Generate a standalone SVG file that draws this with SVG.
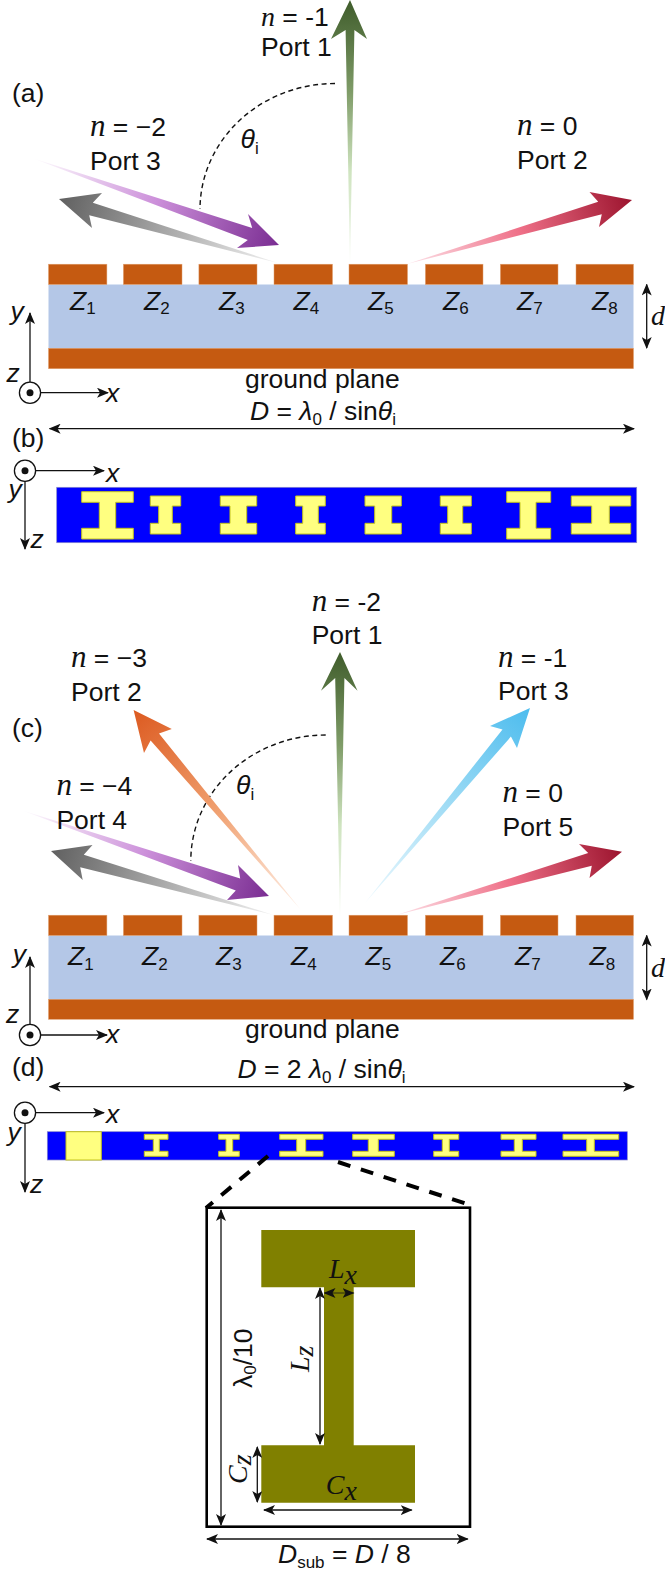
<svg xmlns="http://www.w3.org/2000/svg" width="665" height="1591" viewBox="0 0 665 1591">
<style>
text{font-family:"Liberation Sans",Arial,sans-serif;font-size:26.5px;fill:#111}
.i{font-style:italic}
.m{font-family:"Liberation Serif","Times New Roman",serif;font-style:italic;font-size:28px}
.n{font-family:"Liberation Serif","Times New Roman",serif;font-style:italic;font-size:31px}
.t{font-family:"Liberation Serif","Times New Roman",serif;font-style:italic;font-size:28px}
.s{font-size:17px}
.pa{fill:#c55a11;stroke:#e0a070;stroke-width:.5}
.sb{fill:#b4c7e7}
.bl{fill:#0000ff;stroke:#8888cc;stroke-width:.7}
.ye{fill:#ffff80;stroke:#c4c41c;stroke-width:1}
.ol{fill:#808000}
.ln{fill:none;stroke:#111;stroke-width:1.3}
.dim{marker-start:url(#hd);marker-end:url(#hd)}
.end{marker-end:url(#hd)}
.dash{fill:none;stroke:#111;stroke-width:1.4;stroke-dasharray:5 3.5}
.bd{fill:none;stroke:#000;stroke-width:4;stroke-dasharray:13 11}
.ci{fill:#fff;stroke:#111;stroke-width:1.3}
</style>
<defs>
<marker id="hd" viewBox="0 0 12 10" refX="11" refY="5" markerWidth="12" markerHeight="10" markerUnits="userSpaceOnUse" orient="auto-start-reverse"><path d="M0,0L12,5L0,10L3,5Z" fill="#111"/></marker>
<linearGradient id="g1" gradientUnits="userSpaceOnUse" x1="350" y1="264" x2="350" y2="0"><stop offset="0" stop-color="#f4f9f0"/><stop offset=".35" stop-color="#cfe4c0"/><stop offset=".65" stop-color="#7f9c68"/><stop offset="1" stop-color="#3f5c2b"/></linearGradient>
<linearGradient id="g2" gradientUnits="userSpaceOnUse" x1="32" y1="158" x2="279" y2="245"><stop offset="0" stop-color="#fff"/><stop offset=".12" stop-color="#f3e4f6"/><stop offset=".5" stop-color="#cc90da"/><stop offset="1" stop-color="#7a2d92"/></linearGradient>
<linearGradient id="g3" gradientUnits="userSpaceOnUse" x1="278" y1="263" x2="59" y2="199"><stop offset="0" stop-color="#f2f2f2"/><stop offset="1" stop-color="#606060"/></linearGradient>
<linearGradient id="g4" gradientUnits="userSpaceOnUse" x1="407" y1="264" x2="632" y2="200"><stop offset="0" stop-color="#fde4ea"/><stop offset=".5" stop-color="#ef7088"/><stop offset="1" stop-color="#9c142e"/></linearGradient>
<linearGradient id="g5" gradientUnits="userSpaceOnUse" x1="340" y1="918" x2="340" y2="652"><stop offset="0" stop-color="#f4f9f0"/><stop offset=".35" stop-color="#cfe4c0"/><stop offset=".65" stop-color="#7f9c68"/><stop offset="1" stop-color="#3f5c2b"/></linearGradient>
<linearGradient id="g6" gradientUnits="userSpaceOnUse" x1="301" y1="910" x2="133.6" y2="710"><stop offset="0" stop-color="#fff2ea"/><stop offset=".5" stop-color="#f0a070"/><stop offset="1" stop-color="#dc5a20"/></linearGradient>
<linearGradient id="g7" gradientUnits="userSpaceOnUse" x1="365" y1="903" x2="530" y2="708"><stop offset="0" stop-color="#eef9fe"/><stop offset=".5" stop-color="#a0dcf5"/><stop offset="1" stop-color="#4cbcee"/></linearGradient>
<linearGradient id="g8" gradientUnits="userSpaceOnUse" x1="21" y1="810" x2="269" y2="896"><stop offset="0" stop-color="#fff"/><stop offset=".12" stop-color="#f3e4f6"/><stop offset=".5" stop-color="#cc90da"/><stop offset="1" stop-color="#7a2d92"/></linearGradient>
<linearGradient id="g9" gradientUnits="userSpaceOnUse" x1="273.5" y1="915" x2="51" y2="851"><stop offset="0" stop-color="#f2f2f2"/><stop offset="1" stop-color="#606060"/></linearGradient>
<linearGradient id="g10" gradientUnits="userSpaceOnUse" x1="396.5" y1="915" x2="622" y2="851.7"><stop offset="0" stop-color="#fde4ea"/><stop offset=".5" stop-color="#ef7088"/><stop offset="1" stop-color="#9c142e"/></linearGradient>
</defs>

<g id="structure-a">
<rect class="sb" x="48.5" y="284.5" width="585" height="64"/>
<rect class="pa" x="48.5" y="348.3" width="585" height="20.4"/>
<rect class="pa" x="48.5" y="264.2" width="58.4" height="20.3"/><rect class="pa" x="123.4" y="264.2" width="58.6" height="20.3"/><rect class="pa" x="198.9" y="264.2" width="58.1" height="20.3"/><rect class="pa" x="274" y="264.2" width="58.5" height="20.3"/><rect class="pa" x="349" y="264.2" width="58.5" height="20.3"/><rect class="pa" x="425.4" y="264.2" width="57.6" height="20.3"/><rect class="pa" x="500.4" y="264.2" width="57.6" height="20.3"/><rect class="pa" x="576" y="264.2" width="57.5" height="20.3"/>
</g>
<g id="structure-c">
<rect class="sb" x="48.5" y="935.5" width="585" height="64"/>
<rect class="pa" x="48.5" y="999.3" width="585" height="20"/>
<rect class="pa" x="48.5" y="915.2" width="58.4" height="20.3"/><rect class="pa" x="123.4" y="915.2" width="58.6" height="20.3"/><rect class="pa" x="198.9" y="915.2" width="58.1" height="20.3"/><rect class="pa" x="274" y="915.2" width="58.5" height="20.3"/><rect class="pa" x="349" y="915.2" width="58.5" height="20.3"/><rect class="pa" x="425.4" y="915.2" width="57.6" height="20.3"/><rect class="pa" x="500.4" y="915.2" width="57.6" height="20.3"/><rect class="pa" x="576" y="915.2" width="57.5" height="20.3"/>
</g>
<g id="strip-b">
<rect class="bl" x="56.7" y="487.3" width="580" height="55.4"/>
<path class="ye" d="M81.7 491.7H133.3V502.3H115.7V528.3H133.3V539H81.7V528.3H99.3V502.3H81.7Z"/>
<path class="ye" d="M150.3 496H180.7V506H172.3V523.3H180.7V534H150.3V523.3H158.7V506H150.3Z"/>
<path class="ye" d="M220.3 496H256.7V506H246.7V523.3H256.7V534H220.3V523.3H230V506H220.3Z"/>
<path class="ye" d="M295.7 496H325.3V506H318.3V523.3H325.3V534H295.7V523.3H302.7V506H295.7Z"/>
<path class="ye" d="M365 496H401.3V506H391.7V523.3H401.3V534H365V523.3H374.7V506H365Z"/>
<path class="ye" d="M440.3 496H471.3V506H462.7V523.3H471.3V534H440.3V523.3H447.7V506H440.3Z"/>
<path class="ye" d="M506.7 491.7H550.7V502.3H536V528.3H550.7V539H506.7V528.3H520V502.3H506.7Z"/>
<path class="ye" d="M571.3 496H630.7V506H609.3V523.3H630.7V534H571.3V523.3H591.7V506H571.3Z"/>
</g>
<g id="strip-d">
<rect class="bl" x="47.3" y="1131.7" width="580" height="28.3"/>
<rect class="ye" x="66" y="1131.7" width="35.3" height="28.3"/>
<path class="ye" d="M144.3 1134.3H168V1139.3H159.3V1151.3H168V1156.3H144.3V1151.3H153.3V1139.3H144.3Z"/>
<path class="ye" d="M218.7 1134.3H239.3V1139.3H232.7V1151.3H239.3V1156.3H218.7V1151.3H226V1139.3H218.7Z"/>
<path class="ye" d="M279.7 1134.3H323V1139.3H305.7V1151.3H323V1156.3H279.7V1151.3H296.7V1139.3H279.7Z"/>
<path class="ye" d="M352.7 1134.3H394.3V1139.3H378.3V1151.3H394.3V1156.3H352.7V1151.3H368.3V1139.3H352.7Z"/>
<path class="ye" d="M433.7 1134.3H458.7V1139.3H449.3V1151.3H458.7V1156.3H433.7V1151.3H442.3V1139.3H433.7Z"/>
<path class="ye" d="M501 1134.3H536V1139.3H522.3V1151.3H536V1156.3H501V1151.3H514.3V1139.3H501Z"/>
<path class="ye" d="M563 1134.3H618.7V1139.3H594.3V1151.3H618.7V1156.3H563V1151.3H586.7V1139.3H563Z"/>
</g>
<g id="detail">
<rect x="206.7" y="1207.7" width="263.3" height="319" fill="#fff" stroke="#000" stroke-width="2.6"/>
<path class="ol" d="M261.3 1230H415V1287.3H353.7V1445.3H415V1502.7H261.3V1445.3H324V1287.3H261.3Z"/>
</g>

<g id="connectors">
<path class="dash" d="M335 83.5A135 126 0 0 0 200 209"/>
<path class="dash" d="M325.7 735A135 126 0 0 0 190.8 860.7"/>
<polygon fill="url(#g3)" points="278,263 92.8,202.8 102,193 59,199 92,228 89.2,215.2"/>
<polygon fill="url(#g2)" points="32,158 252.2,227.9 248,214 279,245 237,248 247.8,240.1"/>
<polygon fill="url(#g1)" points="350,264 354.4,30 367,39 350,0 331,39 345.6,30"/>
<polygon fill="url(#g4)" points="407,264 598.2,201.7 589.5,192 632,200 599,227 601.8,214.3"/>
<polygon fill="url(#g5)" points="340,918 344.4,678 357.5,690.7 340,652 321,690.7 335.2,678"/>
<polygon fill="url(#g6)" points="301,910 159,733.5 171.8,729 133.6,710 144,753 150.6,740.5"/>
<polygon fill="url(#g7)" points="365,903 502.5,729.4 490,726 530,708 517,748 510.9,736.6"/>
<polygon fill="url(#g9)" points="273.5,915 83.8,854.8 92.5,845 51,851 82.7,880 80.2,867.2"/>
<polygon fill="url(#g8)" points="21,810 240.2,878.4 238,865 269,896 227,900 235.8,890.6"/>
<polygon fill="url(#g10)" points="396.5,915 588.2,853.1 579,844 622,851.7 589.5,878 591.8,865.7"/>
<path class="ln dim" d="M646.7 284.5V348"/><path class="ln dim" d="M646.7 935.5V999.5"/>
<path class="ln dim" d="M49.6 428.7H634"/><path class="ln dim" d="M49.6 1086.7H634"/>
<path class="ln end" d="M30 382V313"/><path class="ln end" d="M41 392.7H108"/>
<path class="ln end" d="M30 1025V957"/><path class="ln end" d="M41 1035H107"/>
<path class="ln end" d="M36 470.7H104"/><path class="ln end" d="M25 481V549"/>
<path class="ln end" d="M36 1112.7H104"/><path class="ln end" d="M25 1123V1192"/>
<path class="bd" d="M268 1156L206 1208"/><path class="bd" d="M338 1162L470 1205"/>
<path class="ln dim" d="M221 1210V1525"/><path class="ln dim" d="M320 1288V1444"/><path class="ln dim" d="M257.3 1447V1502"/><path class="ln dim" d="M264 1510H411.7"/><path class="ln dim" style="stroke-width:.8" d="M324.5 1293H353.5"/><path class="ln dim" d="M207 1539H467.7"/>
</g>
<g id="axes"><circle class="ci" cx="30" cy="392.7" r="10.6"/><circle cx="30" cy="392.7" r="3.5" fill="#111"/><circle class="ci" cx="30" cy="1035" r="10.6"/><circle cx="30" cy="1035" r="3.5" fill="#111"/><circle class="ci" cx="25" cy="470.7" r="10.6"/><circle cx="25" cy="470.7" r="3.5" fill="#111"/><circle class="ci" cx="25" cy="1112.7" r="10.6"/><circle cx="25" cy="1112.7" r="3.5" fill="#111"/></g>

<g id="labels">
<text x="12" y="102">(a)</text><text x="12" y="447">(b)</text><text x="12" y="737">(c)</text><text x="12" y="1076">(d)</text>
<text x="261" y="25.5"><tspan class="t">n</tspan> = -1</text><text x="261" y="56">Port 1</text>
<text x="90" y="136"><tspan class="n">n</tspan> = −2</text><text x="90" y="170">Port 3</text>
<text x="517" y="135"><tspan class="n">n</tspan> = 0</text><text x="517" y="169">Port 2</text>
<text x="240.5" y="148"><tspan class="i">θ</tspan><tspan class="s" dy="6">i</tspan></text>
<text x="311.7" y="610.7"><tspan class="n">n</tspan> = -2</text><text x="311.7" y="644">Port 1</text>
<text x="71" y="667"><tspan class="n">n</tspan> = −3</text><text x="71" y="700.7">Port 2</text>
<text x="498" y="666.7"><tspan class="n">n</tspan> = -1</text><text x="498" y="700">Port 3</text>
<text x="56.4" y="795"><tspan class="n">n</tspan> = −4</text><text x="56.4" y="829">Port 4</text>
<text x="502.5" y="801.7"><tspan class="n">n</tspan> = 0</text><text x="502.5" y="835.7">Port 5</text>
<text x="236" y="794"><tspan class="i">θ</tspan><tspan class="s" dy="6">i</tspan></text>
<text x="70" y="310"><tspan class="i">Z</tspan><tspan class="s" dy="4">1</tspan></text><text x="144" y="310"><tspan class="i">Z</tspan><tspan class="s" dy="4">2</tspan></text><text x="219" y="310"><tspan class="i">Z</tspan><tspan class="s" dy="4">3</tspan></text><text x="293.5" y="310"><tspan class="i">Z</tspan><tspan class="s" dy="4">4</tspan></text><text x="368" y="310"><tspan class="i">Z</tspan><tspan class="s" dy="4">5</tspan></text><text x="443" y="310"><tspan class="i">Z</tspan><tspan class="s" dy="4">6</tspan></text><text x="517" y="310"><tspan class="i">Z</tspan><tspan class="s" dy="4">7</tspan></text><text x="592" y="310"><tspan class="i">Z</tspan><tspan class="s" dy="4">8</tspan></text>
<text x="68" y="965"><tspan class="i">Z</tspan><tspan class="s" dy="5">1</tspan></text><text x="142" y="965"><tspan class="i">Z</tspan><tspan class="s" dy="5">2</tspan></text><text x="216" y="965"><tspan class="i">Z</tspan><tspan class="s" dy="5">3</tspan></text><text x="291" y="965"><tspan class="i">Z</tspan><tspan class="s" dy="5">4</tspan></text><text x="365.6" y="965"><tspan class="i">Z</tspan><tspan class="s" dy="5">5</tspan></text><text x="440" y="965"><tspan class="i">Z</tspan><tspan class="s" dy="5">6</tspan></text><text x="515" y="965"><tspan class="i">Z</tspan><tspan class="s" dy="5">7</tspan></text><text x="589.5" y="965"><tspan class="i">Z</tspan><tspan class="s" dy="5">8</tspan></text>
<text class="m" x="651" y="325">d</text><text class="m" x="651" y="976.7">d</text>
<text x="245" y="387.7">ground plane</text><text x="245" y="1038">ground plane</text>
<text x="250" y="420"><tspan class="i">D</tspan> = <tspan class="i">λ</tspan><tspan class="s" dy="5">0</tspan><tspan dy="-5"> / sin</tspan><tspan class="i">θ</tspan><tspan class="s" dy="5">i</tspan></text>
<text x="237.5" y="1078"><tspan class="i">D</tspan> = 2 <tspan class="i">λ</tspan><tspan class="s" dy="5">0</tspan><tspan dy="-5"> / sin</tspan><tspan class="i">θ</tspan><tspan class="s" dy="5">i</tspan></text>
<text class="i" x="106" y="401.7">x</text><text class="i" x="10.6" y="320">y</text><text class="i" x="6.4" y="381.7">z</text>
<text class="i" x="106" y="1043">x</text><text class="i" x="12.7" y="963">y</text><text class="i" x="6" y="1023">z</text>
<text class="i" x="106" y="481.7">x</text><text class="i" x="8.5" y="498">y</text><text class="i" x="30.5" y="548">z</text>
<text class="i" x="106" y="1122.7">x</text><text class="i" x="7.6" y="1140.7">y</text><text class="i" x="30" y="1192.7">z</text>
<text transform="translate(252 1388) rotate(-90)">λ<tspan class="s" dy="4">0</tspan><tspan dy="-4">/10</tspan></text>
<text class="m" transform="translate(309 1372) rotate(-90)">L<tspan dy="4">z</tspan></text>
<text class="m" transform="translate(246.7 1484) rotate(-90)">C<tspan dy="4">z</tspan></text>
<text class="m" x="329" y="1278">L<tspan dy="6">x</tspan></text>
<text class="m" x="325.7" y="1494">C<tspan dy="6">x</tspan></text>
<text x="278" y="1562.7"><tspan class="i">D</tspan><tspan class="s" dy="5">sub</tspan><tspan dy="-5"> = </tspan><tspan class="i">D</tspan> / 8</text>
</g>
</svg>
